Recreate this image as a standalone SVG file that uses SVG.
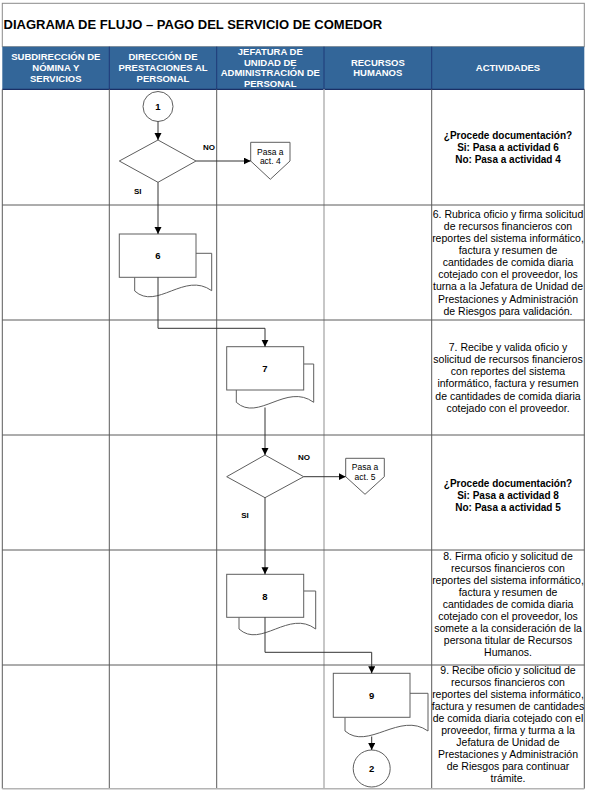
<svg xmlns="http://www.w3.org/2000/svg" width="590" height="794" viewBox="0 0 590 794">
<style>
.grid{stroke:#5a5a5a;stroke-width:1;fill:none}
.lgrid{stroke:#b4b4b4;stroke-width:1.5;fill:none}
.hsep{stroke:#1f3a78;stroke-width:1}
.title{font-family:"Liberation Sans",Arial,sans-serif;font-weight:bold;font-size:13px;fill:#000}
.hdr{font-family:"Liberation Sans",Arial,sans-serif;font-weight:bold;font-size:9.5px;fill:#fff;text-anchor:middle}
.act{font-family:"Liberation Sans",Arial,sans-serif;font-size:10.5px;fill:#000;text-anchor:middle}
.actb{font-family:"Liberation Sans",Arial,sans-serif;font-weight:bold;font-size:10px;fill:#000;text-anchor:middle}
.shape{fill:#fff;stroke:#5e5e5e;stroke-width:1}
.num{font-family:"Liberation Sans",Arial,sans-serif;font-weight:bold;font-size:9.5px;fill:#000;text-anchor:middle}
.small{font-family:"Liberation Sans",Arial,sans-serif;font-size:8.5px;fill:#000;text-anchor:middle}
.lbl{font-family:"Liberation Sans",Arial,sans-serif;font-weight:bold;font-size:8px;fill:#000;text-anchor:middle}
.conn{fill:none;stroke:#333;stroke-width:1;marker-end:url(#arr)}
</style>
<defs>
<marker id="arr" markerUnits="userSpaceOnUse" markerWidth="8" markerHeight="8" refX="7" refY="3.5" orient="auto">
<path d="M0,0 L7,3.5 L0,7 z" fill="#000"/>
</marker>
</defs>
<rect width="590" height="794" fill="#fff"/>
<g id="title">
<rect x="2.3" y="3.3" width="582" height="43.4" fill="#fff" stroke="#8a8a8a" stroke-width="1"/>
<text class="title" x="3.5" y="28.5">DIAGRAMA DE FLUJO – PAGO DEL SERVICIO DE COMEDOR</text>
</g>
<g id="header">
<rect x="2.3" y="46.7" width="582" height="42.6" fill="#336699"/>
<line class="hsep" x1="109.3" y1="46.7" x2="109.3" y2="89.3"/>
<line class="hsep" x1="216.7" y1="46.7" x2="216.7" y2="89.3"/>
<line class="hsep" x1="324" y1="46.7" x2="324" y2="89.3"/>
<line class="hsep" x1="431.7" y1="46.7" x2="431.7" y2="89.3"/>
<line x1="2.3" y1="89.3" x2="584.3" y2="89.3" stroke="#1a2f66" stroke-width="1.2"/>
<text class="hdr" x="55.8" y="60">SUBDIRECCIÓN DE</text>
<text class="hdr" x="55.8" y="71.3">NÓMINA Y</text>
<text class="hdr" x="55.8" y="82">SERVICIOS</text>
<text class="hdr" x="163" y="60">DIRECCIÓN DE</text>
<text class="hdr" x="163" y="71.3">PRESTACIONES AL</text>
<text class="hdr" x="163" y="82">PERSONAL</text>
<text class="hdr" x="270.3" y="55">JEFATURA DE</text>
<text class="hdr" x="270.3" y="66">UNIDAD DE</text>
<text class="hdr" x="270.3" y="76.4">ADMINISTRACIÓN DE</text>
<text class="hdr" x="270.3" y="87.4">PERSONAL</text>
<text class="hdr" x="377.8" y="66">RECURSOS</text>
<text class="hdr" x="377.8" y="76.4">HUMANOS</text>
<text class="hdr" x="508" y="71">ACTIVIDADES</text>
</g>
<g id="grid">
<line class="grid" x1="2.3" y1="89.3" x2="2.3" y2="788.7"/>
<line class="grid" x1="109.3" y1="89.3" x2="109.3" y2="788.7"/>
<line class="grid" x1="216.7" y1="89.3" x2="216.7" y2="788.7"/>
<line class="lgrid" x1="324" y1="89.3" x2="324" y2="788.7"/>
<line class="grid" x1="431.7" y1="89.3" x2="431.7" y2="788.7"/>
<line class="grid" x1="584.3" y1="89.3" x2="584.3" y2="788.7"/>
<line class="grid" x1="2.3" y1="205" x2="584.3" y2="205"/>
<line class="grid" x1="2.3" y1="320" x2="584.3" y2="320"/>
<line class="grid" x1="2.3" y1="435" x2="584.3" y2="435"/>
<line class="grid" x1="2.3" y1="550" x2="584.3" y2="550"/>
<line class="grid" x1="2.3" y1="665" x2="584.3" y2="665"/>
<line class="lgrid" x1="2.3" y1="788.7" x2="584.3" y2="788.7"/>
</g>
<g id="activities">
<text class="actb" x="508" y="138.6">¿Procede documentación?</text>
<text class="actb" x="508" y="150.6">Si: Pasa a actividad 6</text>
<text class="actb" x="508" y="162.6">No: Pasa a actividad 4</text>
<text class="act" x="508" y="217.8">6. Rubrica oficio y firma solicitud</text>
<text class="act" x="508" y="229.9">de recursos financieros con</text>
<text class="act" x="508" y="242">reportes del sistema informático,</text>
<text class="act" x="508" y="254.1">factura y resumen de</text>
<text class="act" x="508" y="266.2">cantidades de comida diaria</text>
<text class="act" x="508" y="278.3">cotejado con el proveedor, los</text>
<text class="act" x="508" y="290.4">turna a la Jefatura de Unidad de</text>
<text class="act" x="508" y="302.5">Prestaciones y Administración</text>
<text class="act" x="508" y="314.6">de Riesgos para validación.</text>
<text class="act" x="508" y="351.1">7. Recibe y valida oficio y</text>
<text class="act" x="508" y="363.2">solicitud de recursos financieros</text>
<text class="act" x="508" y="375.3">con reportes del sistema</text>
<text class="act" x="508" y="387.4">informático, factura y resumen</text>
<text class="act" x="508" y="399.5">de cantidades de comida diaria</text>
<text class="act" x="508" y="411.6">cotejado con el proveedor.</text>
<text class="actb" x="508" y="487">¿Procede documentación?</text>
<text class="actb" x="508" y="499">Si: Pasa a actividad 8</text>
<text class="actb" x="508" y="511">No: Pasa a actividad 5</text>
<text class="act" x="508" y="559.8">8. Firma oficio y solicitud de</text>
<text class="act" x="508" y="571.8">recursos financieros con</text>
<text class="act" x="508" y="583.8">reportes del sistema informático,</text>
<text class="act" x="508" y="595.8">factura y resumen de</text>
<text class="act" x="508" y="607.8">cantidades de comida diaria</text>
<text class="act" x="508" y="619.8">cotejado con el proveedor, los</text>
<text class="act" x="508" y="631.8">somete a la consideración de la</text>
<text class="act" x="508" y="643.8">persona titular de Recursos</text>
<text class="act" x="508" y="655.8">Humanos.</text>
<text class="act" x="508" y="674">9. Recibe oficio y solicitud de</text>
<text class="act" x="508" y="686">recursos financieros con</text>
<text class="act" x="508" y="698">reportes del sistema informático,</text>
<text class="act" x="508" y="710">factura y resumen de cantidades</text>
<text class="act" x="508" y="722">de comida diaria cotejado con el</text>
<text class="act" x="508" y="734">proveedor, firma y turma a la</text>
<text class="act" x="508" y="746">Jefatura de Unidad de</text>
<text class="act" x="508" y="758">Prestaciones y Administración</text>
<text class="act" x="508" y="770">de Riesgos para continuar</text>
<text class="act" x="508" y="782">trámite.</text>
</g>
<g id="start1">
<circle class="shape" cx="158" cy="106.5" r="15"/>
<text class="num" x="158" y="110">1</text>
</g>
<g id="decision1">
<polygon class="shape" points="158,140 196,161 158,182.3 119.3,161"/>
</g>
<g id="offpage4">
<polygon class="shape" points="250.7,142.3 290,142.3 290,161 270.3,179.3 250.7,161"/>
<text class="small" x="270.3" y="154.5">Pasa a</text>
<text class="small" x="270.3" y="164">act. 4</text>
</g>
<g id="doc6">
<path class="shape" d="M134.7,277.3 L134.7,291 C156.7,311 184.7,271 211.7,290.7 L211.7,253.3 L196,253.3"/>
<rect class="shape" x="119.3" y="234" width="76.7" height="43.3"/>
<text class="num" x="158" y="258.5">6</text>
</g>
<g id="doc7">
<path class="shape" d="M236.3,390 L236.3,402.3 C258.3,422.3 286.3,382.3 313.7,402.3 L313.7,364 L303.7,364"/>
<rect class="shape" x="226.7" y="346.7" width="77" height="43.3"/>
<text class="num" x="265" y="371.5">7</text>
</g>
<g id="decision2">
<polygon class="shape" points="265,455 303.7,476.7 265,497.7 226.7,476.7"/>
</g>
<g id="offpage5">
<polygon class="shape" points="345.7,458.3 384.3,458.3 384.3,476.7 365,494.3 345.7,476.7"/>
<text class="small" x="365" y="470">Pasa a</text>
<text class="small" x="365" y="479.5">act. 5</text>
</g>
<g id="doc8">
<path class="shape" d="M239,617.3 L239,629 C261,649 289,609 315.7,629 L315.7,591 L303.7,591"/>
<rect class="shape" x="226.7" y="574.3" width="77" height="43"/>
<text class="num" x="265" y="599.5">8</text>
</g>
<g id="doc9">
<path class="shape" d="M345,717.3 L345,731 C368,751 400,711 428,731 L428,693.3 L410,693.3"/>
<rect class="shape" x="333.3" y="673.3" width="76.7" height="44"/>
<text class="num" x="371.7" y="698.5">9</text>
</g>
<g id="end2">
<circle class="shape" cx="371.7" cy="768.5" r="18.5"/>
<text class="num" x="371.7" y="772">2</text>
</g>
<g id="connectors">
<path class="conn" d="M158,121.5 L158,140"/>
<path class="conn" d="M196,161 L250.7,161"/>
<path class="conn" d="M158,182.3 L158,234"/>
<path class="conn" d="M158,277.3 L158,328.3 L265,328.3 L265,346.7"/>
<path class="conn" d="M265,407.5 L265,455"/>
<path class="conn" d="M303.7,476.7 L345.7,476.7"/>
<path class="conn" d="M265,497.7 L265,574.3"/>
<path class="conn" d="M265,617.3 L265,652.3 L371.7,652.3 L371.7,673.3"/>
<path class="conn" d="M371.7,736.5 L371.7,750"/>
<text class="lbl" x="209" y="150">NO</text>
<text class="lbl" x="137.7" y="194">SI</text>
<text class="lbl" x="304" y="460.3">NO</text>
<text class="lbl" x="245" y="518">SI</text>
</g>
</svg>
